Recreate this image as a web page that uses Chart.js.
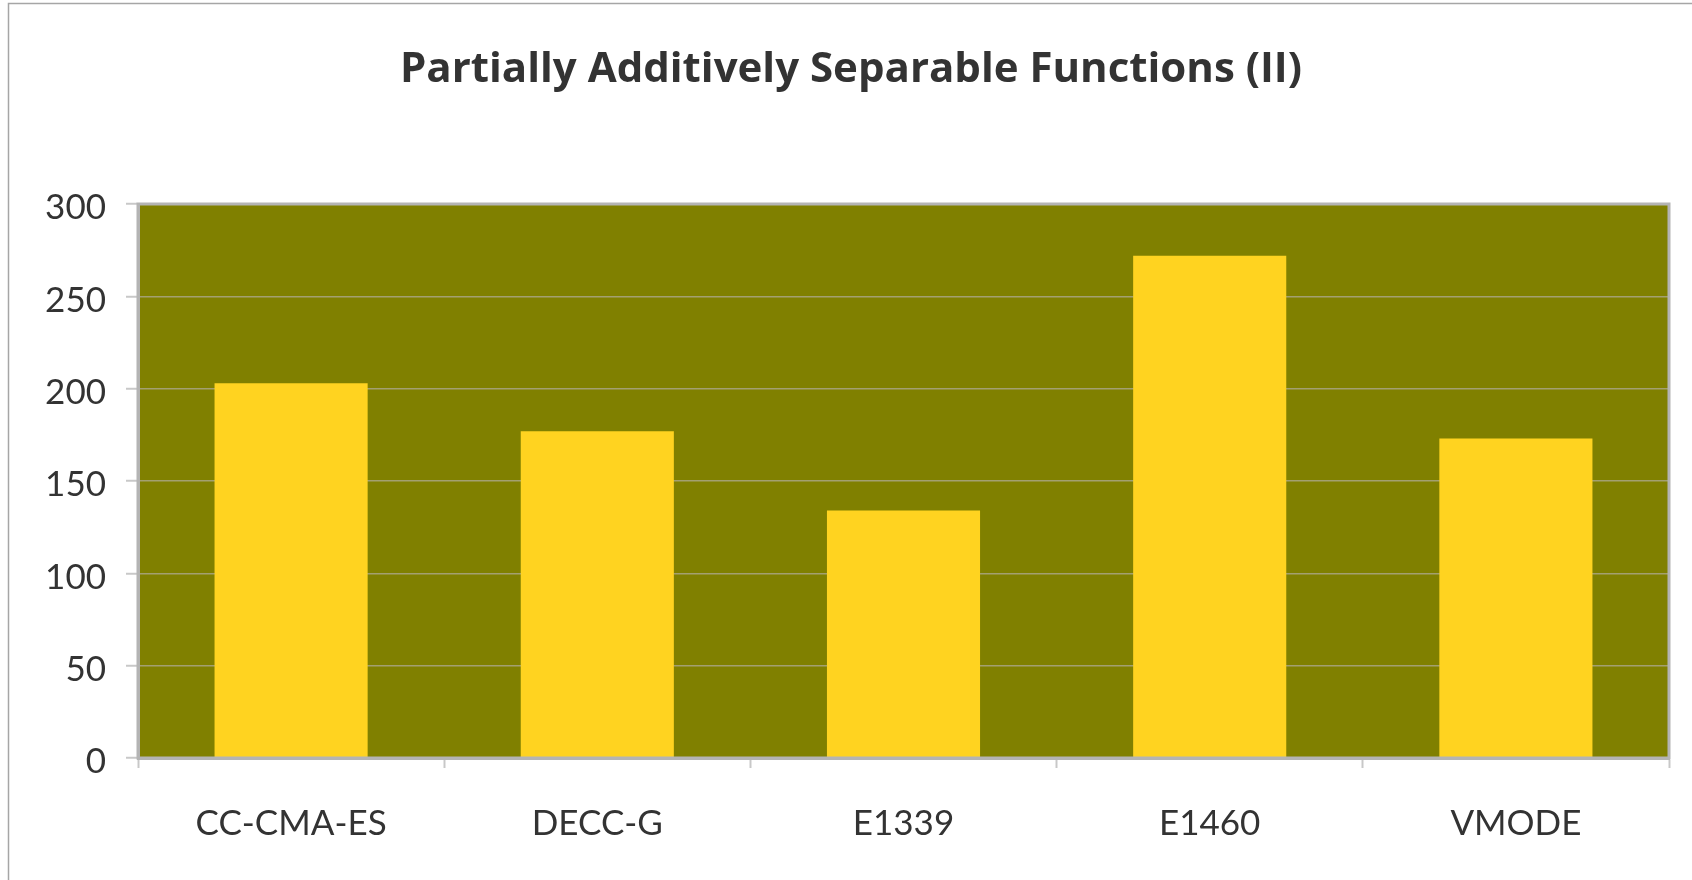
<!DOCTYPE html>
<html>
<head>
<meta charset="utf-8">
<title>Partially Additively Separable Functions (II)</title>
<script src="https://cdn.jsdelivr.net/npm/chart.js@4/dist/chart.umd.min.js"></script>
<style>
  html, body { margin: 0; padding: 0; background: #ffffff; }
  #wrap { width: 1692px; height: 880px; }
</style>
</head>
<body>
<div id="wrap"><canvas id="chart" width="1692" height="880"></canvas></div>
<script>
// Algorithms compared
const categories = ['CC-CMA-ES', 'DECC-G', 'E1339', 'E1460', 'VMODE'];
// Score per algorithm
const scores = [203, 177, 134, 272, 173];
// Value axis range
const yMin = 0;
const yMax = 300;
const yStep = 50;

const chartTitle = 'Partially Additively Separable Functions (II)';

const FONT = 'Lato, "Open Sans", "Noto Sans", sans-serif';
const TITLE_FONT = '"Open Sans", Lato, "Noto Sans", sans-serif';
const TEXT = '#333333';
const PLOT_BG = '#808000';
const BAR = '#ffd320';
const FRAME = '#b4b4b4';

// White page, thin outer frame, and the olive plotting area
const backdrop = {
  id: 'backdrop',
  beforeDraw(chart) {
    const { ctx, chartArea: a, width, height } = chart;
    ctx.save();
    ctx.fillStyle = '#ffffff';
    ctx.fillRect(0, 0, width, height);
    ctx.strokeStyle = '#a6a6a6';
    ctx.lineWidth = 1.5;
    ctx.beginPath();
    ctx.moveTo(8.5, height);
    ctx.lineTo(8.5, 3.5);
    ctx.lineTo(width, 3.5);
    ctx.stroke();
    ctx.fillStyle = PLOT_BG;
    ctx.fillRect(a.left, a.top, a.right - a.left, a.bottom - a.top);
    ctx.restore();
  }
};

// Grey frame around the plotting area
const plotFrame = {
  id: 'plotFrame',
  afterDatasetsDraw(chart) {
    const { ctx, chartArea: a } = chart;
    ctx.save();
    ctx.strokeStyle = FRAME;
    ctx.lineWidth = 3;
    ctx.strokeRect(a.left, a.top, a.right - a.left, a.bottom - a.top);
    ctx.restore();
  }
};

new Chart(document.getElementById('chart'), {
  type: 'bar',
  data: {
    labels: categories,
    datasets: [{
      data: scores,
      backgroundColor: BAR,
      borderWidth: 0,
      categoryPercentage: 0.5,
      barPercentage: 1.0
    }]
  },
  options: {
    responsive: false,
    animation: false,
    devicePixelRatio: 1,
    layout: { padding: { left: 33, right: 23, top: 0, bottom: 0 } },
    plugins: {
      legend: { display: false },
      tooltip: { enabled: false },
      title: {
        display: true,
        text: chartTitle,
        color: TEXT,
        font: { family: TITLE_FONT, size: 42, weight: 'bold', lineHeight: 1.2 },
        padding: { top: 45, bottom: 108.6 }
      }
    },
    scales: {
      x: {
        grid: {
          display: true,
          offset: true,
          drawOnChartArea: false,
          drawTicks: true,
          tickLength: 10,
          tickColor: '#c8c8c8',
          tickWidth: 2
        },
        border: { display: true, color: FRAME, width: 3 },
        ticks: {
          color: TEXT,
          padding: 35,
          font: { family: FONT, size: 35 }
        },
        afterFit(scale) { scale.height = 122; }
      },
      y: {
        min: yMin,
        max: yMax,
        grid: {
          color: '#a3a071',
          lineWidth: 1.5,
          drawTicks: true,
          tickLength: 12,
          tickColor: '#c8c8c8',
          tickWidth: 2
        },
        border: { display: true, color: FRAME, width: 3 },
        ticks: {
          stepSize: yStep,
          color: TEXT,
          padding: 20,
          labelOffset: 4,
          font: { family: FONT, size: 35 }
        },
        afterFit(scale) { scale.width = 105; }
      }
    }
  },
  plugins: [backdrop, plotFrame]
});
</script>
</body>
</html>
